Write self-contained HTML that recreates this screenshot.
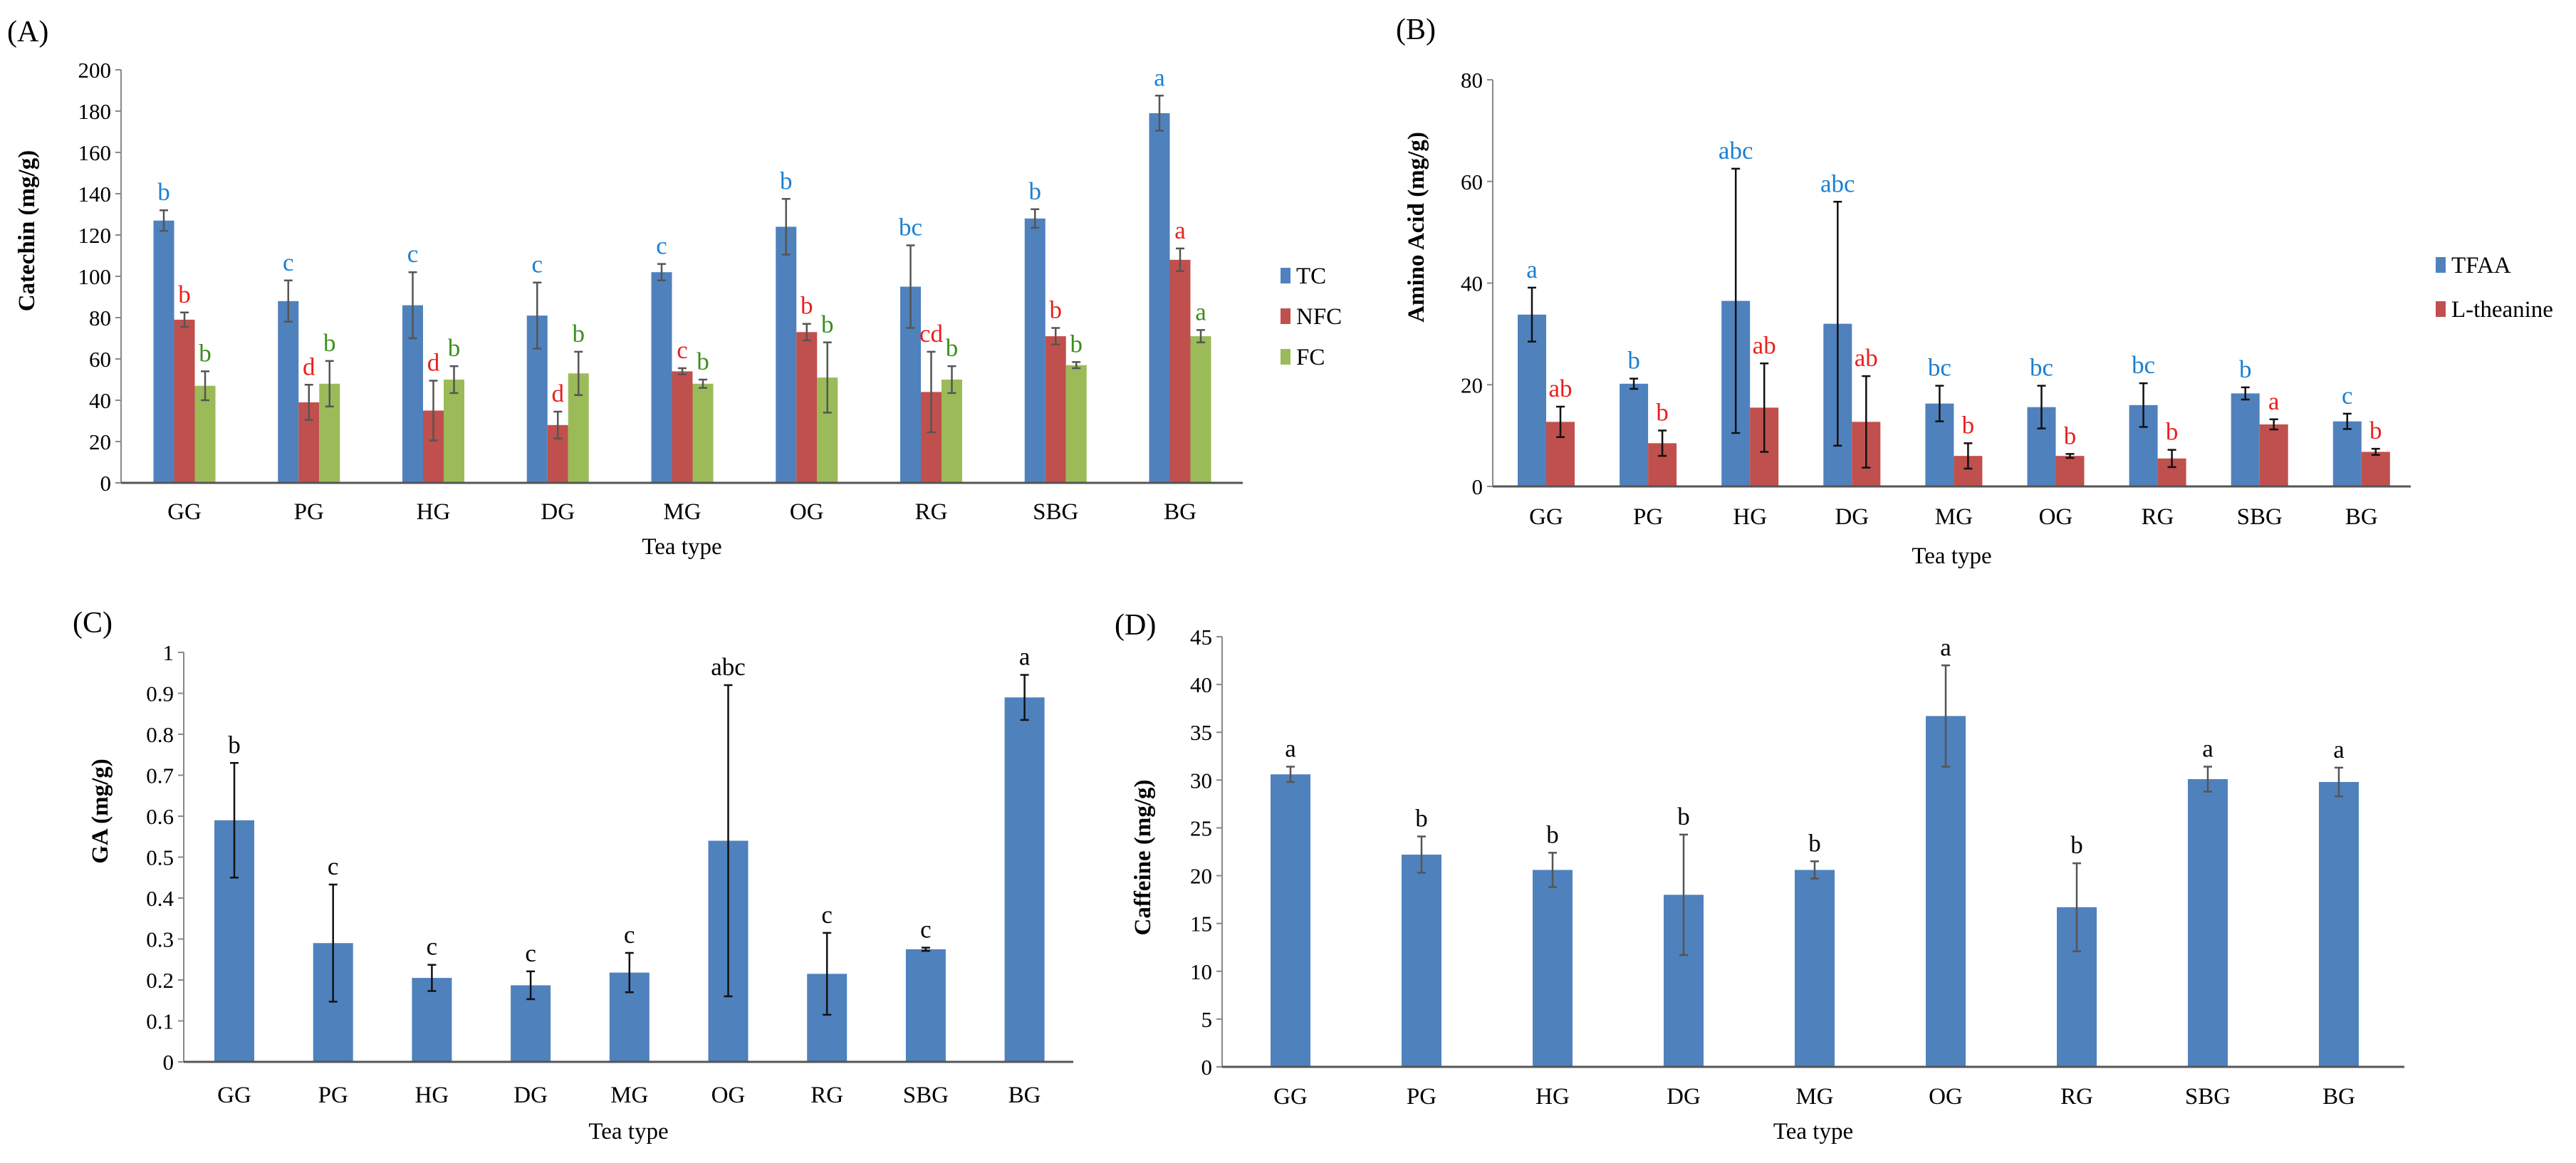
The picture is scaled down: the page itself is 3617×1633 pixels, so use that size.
<!DOCTYPE html>
<html><head><meta charset="utf-8"><style>
html,body{margin:0;padding:0;background:#fff;}
svg{display:block;}
svg text{font-family:"Liberation Serif","DejaVu Serif",serif;}
</style></head><body>
<svg id="fig" width="3617" height="1633" viewBox="0 0 3617 1633" font-family="Liberation Serif, serif" xmlns="http://www.w3.org/2000/svg"></svg>
<script>
const categories = ["GG","PG","HG","DG","MG","OG","RG","SBG","BG"];
// Panel A
const tcValues = [127,88,86,81,102,124,95,128,179];
const tcErr = [5,10,16,16,4,13.5,20,4.5,8.5];
const tcLetters = ["b","c","c","c","c","b","bc","b","a"];
const nfcValues = [79,39,35,28,54,73,44,71,108];
const nfcErr = [3.5,8.5,14.5,6.5,1.5,4,19.5,4,5.5];
const nfcLetters = ["b","d","d","d","c","b","cd","b","a"];
const fcValues = [47,48,50,53,48,51,50,57,71];
const fcErr = [7,11,6.5,10.5,2,17,6.5,1.5,3];
const fcLetters = ["b","b","b","b","b","b","b","b","a"];
const ticksA = [0,20,40,60,80,100,120,140,160,180,200];
// Panel B
const tfaaValues = [33.8,20.2,36.5,32,16.3,15.6,16,18.3,12.8];
const tfaaErr = [5.3,1,26,24,3.5,4.2,4.3,1.2,1.5];
const tfaaLetters = ["a","b","abc","abc","bc","bc","bc","b","c"];
const theValues = [12.7,8.5,15.5,12.7,6,6,5.5,12.2,6.8];
const theErr = [3,2.5,8.7,9,2.5,0.4,1.7,1,0.6];
const theLetters = ["ab","b","ab","ab","b","b","b","a","b"];
const ticksB = [0,20,40,60,80];
// Panel C
const gaValues = [0.59,0.29,0.205,0.187,0.218,0.54,0.215,0.275,0.89];
const gaErr = [0.14,0.143,0.032,0.034,0.048,0.38,0.1,0.004,0.055];
const gaLetters = ["b","c","c","c","c","abc","c","c","a"];
const ticksC = [0,0.1,0.2,0.3,0.4,0.5,0.6,0.7,0.8,0.9,1];
// Panel D
const cafValues = [30.6,22.2,20.6,18,20.6,36.7,16.7,30.1,29.8];
const cafErr = [0.8,1.9,1.8,6.3,0.9,5.3,4.6,1.3,1.5];
const cafLetters = ["a","b","b","b","b","a","b","a","a"];
const ticksD = [0,5,10,15,20,25,30,35,40,45];

const NS="http://www.w3.org/2000/svg";
const svg=document.getElementById("fig");
const FF="Liberation Serif, DejaVu Serif, serif";
function mk(tag,attrs,parent,txt){
  const e=document.createElementNS(NS,tag);
  for(const k in attrs) e.setAttribute(k,attrs[k]);
  if(tag==="text") e.setAttribute("font-family",FF);
  if(txt!==undefined) e.textContent=txt;
  (parent||svg).appendChild(e);
  return e;
}

function panel(cfg){
  const g=mk("g",{});
  
  
  const y=v=>cfg.y0+(cfg.yTop-cfg.y0)*(v-cfg.min)/(cfg.max-cfg.min);
  const x=i=>cfg.x0c+i*cfg.step;
  const ax=mk("line",{x1:cfg.ax,y1:y(cfg.max),x2:cfg.ax,y2:y(cfg.min),stroke:"#888","stroke-width":2},g);
  
  
  cfg.ticks.forEach(t=>{
    const tk=mk("line",{x1:cfg.ax-8,y1:y(t),x2:cfg.ax,y2:y(t),stroke:"#888","stroke-width":2},g);
    
    
    const tl=mk("text",{x:cfg.ax-14,y:y(t)+11,"text-anchor":"end","font-size":31},g,String(t));
    
    
  });
  const n=cfg.series.length;
  cfg.series.forEach((s,si)=>{
    categories.forEach((c,i)=>{
      const cx=x(i)+(si-(n-1)/2)*cfg.bw;
      const top=y(s.values[i]);
      const r=mk("rect",{x:cx-cfg.bw/2,y:top,width:cfg.bw,height:y(cfg.min)-top,fill:s.color},g);
      
      
      const hi=y(s.values[i]+s.err[i]), lo=y(s.values[i]-s.err[i]);
      const eb=mk("path",{d:`M${cx},${hi}V${lo}M${cx-6},${hi}H${cx+6}M${cx-6},${lo}H${cx+6}`,stroke:cfg.errColor,"stroke-width":2.5,fill:"none"},g);
      
      
      const lt=mk("text",{x:cx,y:hi-14,"text-anchor":"middle","font-size":35,fill:s.letterColor},g,s.letters[i]);
      
      
    });
  });
  const xa=mk("line",{x1:cfg.ax,y1:y(cfg.min),x2:cfg.xEnd,y2:y(cfg.min),stroke:"#555","stroke-width":3},g);
  
  
  categories.forEach((c,i)=>{
    const t=mk("text",{x:x(i),y:cfg.catY,"text-anchor":"middle","font-size":33},g,c);
    
    
  });
  const xt=mk("text",{x:(cfg.ax+cfg.xEnd)/2,y:cfg.xtY,"text-anchor":"middle","font-size":33},g,"Tea type");
  
  
  const yt=mk("text",{x:0,y:0,"text-anchor":"middle","font-size":33,"font-weight":"bold",transform:`translate(${cfg.ytX},${cfg.ytY}) rotate(-90)`},g,cfg.ytitle);
  
  
  const pl=mk("text",{x:cfg.plX,y:cfg.plY,"font-size":42},g,cfg.plabel);
  
  
  if(cfg.legend){
    cfg.series.forEach((s,si)=>{
      const ly=cfg.legend.y+si*cfg.legend.dy;
      const sq=mk("rect",{x:cfg.legend.x,y:ly-11,width:14,height:22,fill:s.color},g);
      
      
      const lt=mk("text",{x:cfg.legend.x+22,y:ly+11,"font-size":33},g,s.label);
      
      
    });
  }
}
const BLUE="#4F81BD",RED="#C0504D",GREEN="#9BBB59";
panel({name:"panel-a-catechin",min:0,max:200,y0:678,yTop:98,ax:170,xEnd:1745,x0c:259,step:174.75,bw:29,
  ticks:ticksA,errColor:"#555",catY:729,xtY:778,ytitle:"Catechin (mg/g)",ytX:48,ytY:324,plabel:"(A)",plX:10,plY:58,
  legend:{x:1798,y:387,dy:57},
  series:[{key:"tc",label:"TC",color:BLUE,values:tcValues,err:tcErr,letters:tcLetters,letterColor:"#1a7fd0"},
          {key:"nfc",label:"NFC",color:RED,values:nfcValues,err:nfcErr,letters:nfcLetters,letterColor:"#e8201e"},
          {key:"fc",label:"FC",color:GREEN,values:fcValues,err:fcErr,letters:fcLetters,letterColor:"#3a8f1a"}]});
panel({name:"panel-b-amino-acid",min:0,max:80,y0:683,yTop:112,ax:2096,xEnd:3385,x0c:2171,step:143.1,bw:40,
  ticks:ticksB,errColor:"#111",catY:736,xtY:791,ytitle:"Amino Acid (mg/g)",ytX:1999,ytY:319,plabel:"(B)",plX:1960,plY:55,
  legend:{x:3420,y:372,dy:62},
  series:[{key:"tfaa",label:"TFAA",color:BLUE,values:tfaaValues,err:tfaaErr,letters:tfaaLetters,letterColor:"#1a7fd0"},
          {key:"ltheanine",label:"L-theanine",color:RED,values:theValues,err:theErr,letters:theLetters,letterColor:"#e8201e"}]});
panel({name:"panel-c-ga",min:0,max:1,y0:1491,yTop:916,ax:258,xEnd:1507,x0c:329,step:138.7,bw:56,
  ticks:ticksC,errColor:"#111",catY:1548,xtY:1599,ytitle:"GA (mg/g)",ytX:151,ytY:1139,plabel:"(C)",plX:102,plY:888,
  series:[{key:"ga",label:"GA",color:BLUE,values:gaValues,err:gaErr,letters:gaLetters,letterColor:"#000"}]});
panel({name:"panel-d-caffeine",min:0,max:45,y0:1498,yTop:894,ax:1716,xEnd:3376,x0c:1812,step:184,bw:56,
  ticks:ticksD,errColor:"#555",catY:1550,xtY:1599,ytitle:"Caffeine (mg/g)",ytX:1615,ytY:1204,plabel:"(D)",plX:1565,plY:891,
  series:[{key:"caffeine",label:"Caffeine",color:BLUE,values:cafValues,err:cafErr,letters:cafLetters,letterColor:"#000"}]});
</script>
</body></html>
